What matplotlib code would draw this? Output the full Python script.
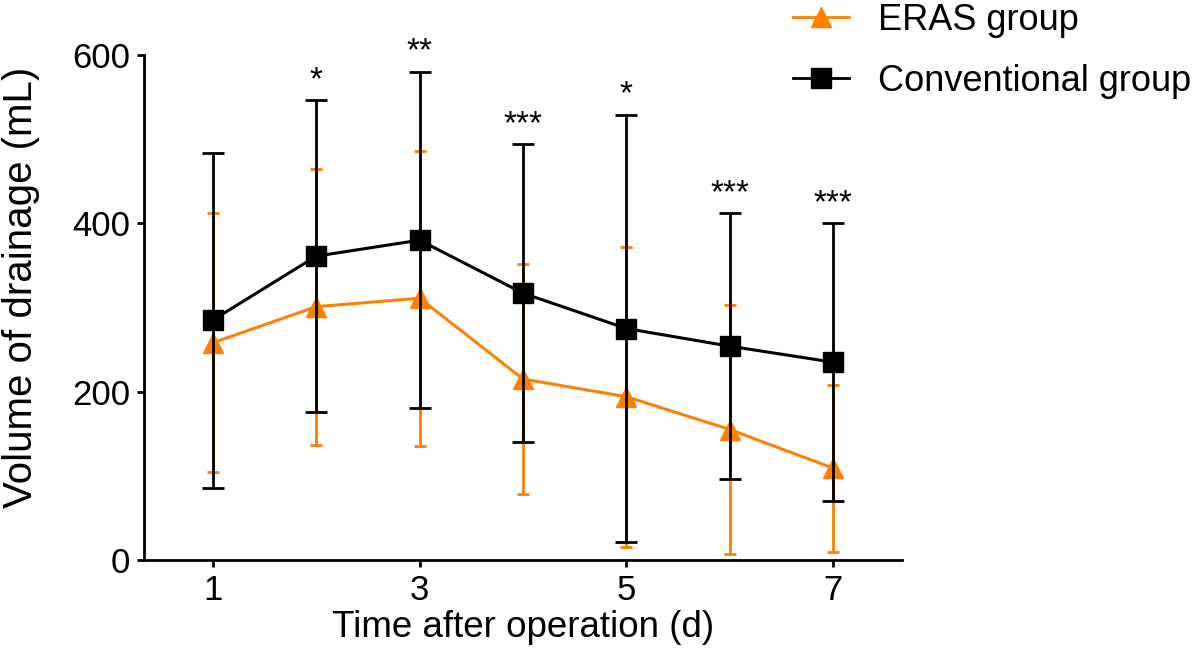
import numpy as np
import matplotlib
matplotlib.use('Agg')
import matplotlib.pyplot as plt
from matplotlib.lines import Line2D

plt.rcParams['font.family'] = ['Liberation Sans', 'DejaVu Sans']

# values
days = [1, 2, 3, 4, 5, 6, 7]
eras_mean = [258, 301, 311, 215, 194, 155, 109]
eras_sd = [154, 164, 175, 137, 178, 148, 99]
conv_mean = [285, 361, 380, 317, 275, 254, 235]
conv_sd = [199, 185, 200, 177, 254, 158, 165]
stars = ['', '*', '**', '***', '*', '***', '***']

orange = '#FF8000'

fig = plt.figure(figsize=(12, 6.61), dpi=100)
ax = fig.add_axes([0.12, 0.1528, 0.6317, 0.764])

ax.errorbar(days, eras_mean, yerr=eras_sd, color=orange, lw=2.2, marker='^',
            ms=14, capsize=4.5, capthick=2, elinewidth=2, zorder=2)
ax.errorbar(days, conv_mean, yerr=conv_sd, color='black', lw=2.2, marker='s',
            ms=14, capsize=8, capthick=2, elinewidth=2, zorder=3)

# significance marks above the conventional group bars
for d, m, s, lab in zip(days, conv_mean, conv_sd, stars):
    if lab:
        ax.annotate(lab, (d, m + s), xytext=(0, 3), textcoords='offset points',
                    ha='center', va='bottom', fontsize=24)

ax.set_xlim(0.335, 7.665)
ax.set_ylim(0, 600)
ax.set_xticks([1, 3, 5, 7])
ax.set_yticks([0, 200, 400, 600])
ax.tick_params(labelsize=25, width=2, length=5, pad=5)
for side in ['top', 'right']:
    ax.spines[side].set_visible(False)
for side in ['left', 'bottom']:
    ax.spines[side].set_linewidth(2)

ax.set_xlabel('Time after operation (d)', fontsize=26.5, labelpad=2)
ax.set_ylabel('Volume of drainage (mL)', fontsize=29)
ax.yaxis.set_label_coords(-0.137, 0.539)

handles = [Line2D([], [], color=orange, lw=2, marker='^', ms=14),
           Line2D([], [], color='black', lw=2, marker='s', ms=14)]
fig.legend(handles, ['ERAS group', 'Conventional group'], loc='upper left',
           bbox_to_anchor=(0.634, 1.045), frameon=False, fontsize=26,
           handlelength=1.55, handletextpad=0.8, labelspacing=0.72)

fig.savefig('out.png', dpi=100)
